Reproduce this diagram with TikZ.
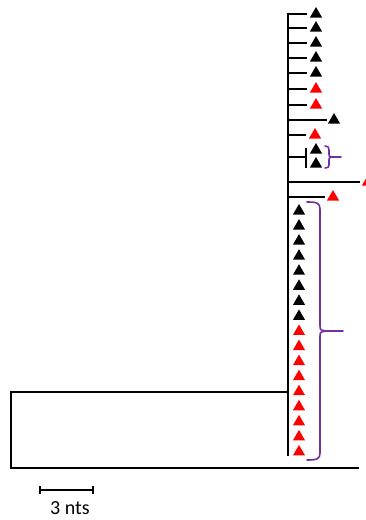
\documentclass[tikz,border=0pt]{standalone}
\usepackage{fontspec}
\setmainfont{Carlito}
\usetikzlibrary{shapes.geometric,calc}
\definecolor{braceviolet}{RGB}{112,48,160}
\begin{document}
\begin{tikzpicture}[x=1pt,y=-1pt,
  branch/.style={line width=2.6pt, line cap=butt, line join=miter},
  tri/.style={regular polygon, regular polygon sides=3, minimum size=14pt,
    inner sep=0pt, outer sep=0pt, draw=none, fill=black},
  bracev/.style={draw=braceviolet, line width=1.6pt, line cap=round, line join=round}]
\useasboundingbox (0,0) rectangle (366,520);

% spine of the comb, joined to the first branch
\coordinate (b1) at (288,14);
\coordinate (e1) at (307,14);
\coordinate (spineend) at (288,456);
\draw[branch] (e1) -| (spineend);
\node[tri] (t1) at (316,14) {};

% remaining branches: index / height / branch end / marker x / colour
\foreach \i/\y/\xe/\xt/\c in {2/28/307/316/black, 3/43/307/316/black,
    4/58/307/316/black, 5/73/307/316/black, 6/89/307/316/red,
    7/105/307/316/red, 8/120/327/334/black, 9/135/306/315/red,
    11/182/360/368/red, 12/197/325/333/red} {
  \coordinate (b\i) at (288,\y);
  \coordinate (e\i) at (\xe,\y);
  \draw[branch] (b\i) -- (e\i);
  \node[tri, fill=\c] (t\i) at (\xt,\y) {};
}

% branch ending in a pair of sister markers
\coordinate (b10) at (288,157);
\coordinate (e10) at (306,157);
\coordinate (e10a) at (306,148);
\coordinate (e10b) at (306,168);
\draw[branch] (b10) -- (e10);
\draw[branch] (e10a) -- (e10b);
\node[tri] (t10a) at (316,150) {};
\node[tri] (t10b) at (316,164) {};

% stacked markers along the lower spine
\foreach \k in {0,...,16} {
  \pgfmathsetmacro\yy{211+15.06*\k}
  \ifnum\k<8 \def\cc{black}\else\def\cc{red}\fi
  \node[tri, fill=\cc] (c\k) at (299,\yy) {};
}

% root and outgroup
\coordinate (join) at (288,392);
\coordinate (rtop) at (11,392);
\coordinate (rbot) at (11,468);
\coordinate (out) at (359,468);
\draw[branch] (join) -- (rtop) -- (rbot) -- (out);

% small brace
\coordinate (sbt) at (325,146);
\coordinate (sbb) at (325,168);
\coordinate (sbtip) at (341,157);
\draw[bracev] (sbt) .. controls (328,146) and (329,147) .. (329,150)
  -- (329,154) .. controls (329,156.5) .. (332,157) -- (sbtip);
\draw[bracev] (332,157) .. controls (329,157.5) .. (329,160)
  -- (329,165) .. controls (329,167) and (328,168) .. (sbb);

% large brace
\coordinate (lbt) at (307,202);
\coordinate (lbb) at (307,460);
\coordinate (lbtip) at (343,331);
\draw[bracev] (lbt) .. controls (317,202) and (320,203) .. (320,209)
  -- (320,325) .. controls (320,330) .. (326,331) -- (lbtip);
\draw[bracev] (326,331) .. controls (320,332) .. (320,337)
  -- (320,453) .. controls (320,459) and (317,460) .. (lbb);

% scale bar
\coordinate (s1) at (40,490);
\coordinate (s2) at (93,490);
\draw[line width=2.8pt] (s1) -- (s2);
\draw[line width=2.4pt] (s1) ++(0,-4) -- ++(0,8);
\draw[line width=2.4pt] (s2) ++(0,-4) -- ++(0,8);
\node[inner sep=0pt, font=\fontsize{20}{22}\selectfont] (lbl) at (70,508) {3 nts};
\end{tikzpicture}
\end{document}
